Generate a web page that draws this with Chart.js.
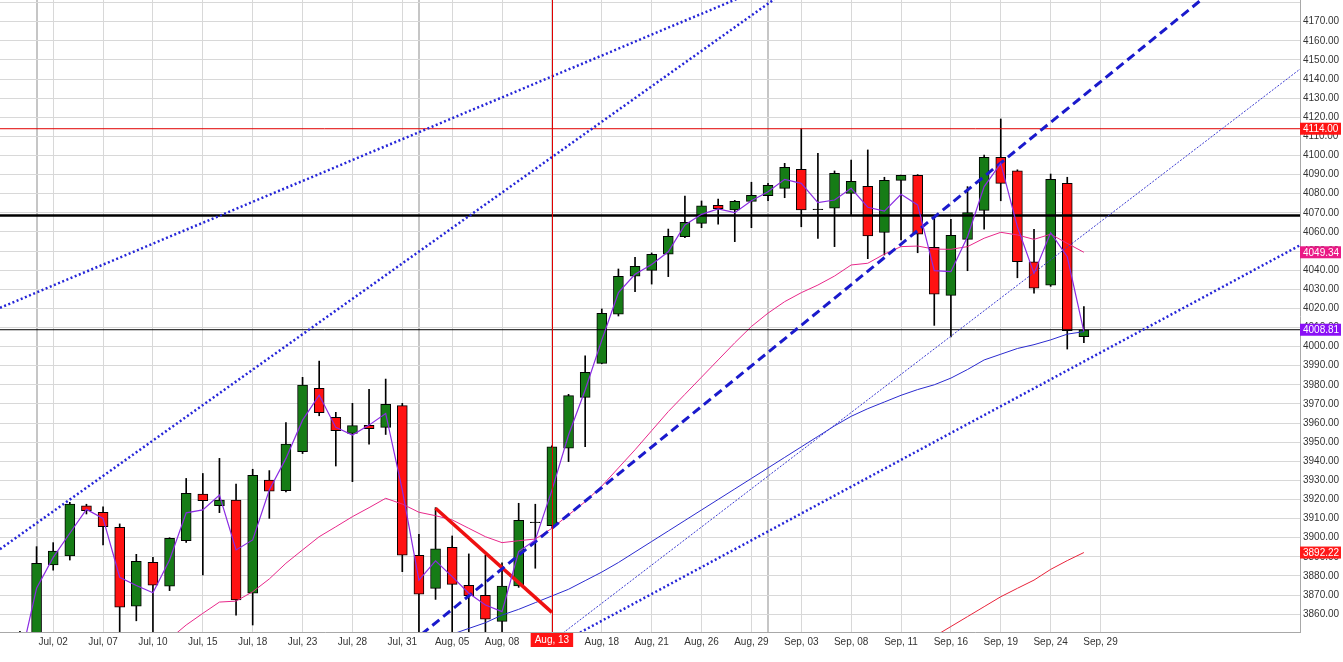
<!DOCTYPE html>
<html>
<head>
<meta charset="utf-8">
<title>Daily candles</title>
<script src="https://cdn.jsdelivr.net/npm/chart.js@4.4.1/dist/chart.umd.min.js"></script>
<style>
  html, body { margin: 0; padding: 0; background: #fff; }
  #wrap { width: 1343px; height: 662px; }
</style>
</head>
<body>
<div id="wrap"><canvas id="priceChart"></canvas></div>
<script>
// trading days, index 0 = Jun 30
const dates = ['Jun, 30', 'Jul, 01', 'Jul, 02', 'Jul, 03', 'Jul, 04', 'Jul, 07', 'Jul, 08', 'Jul, 09', 'Jul, 10', 'Jul, 11',
  'Jul, 14', 'Jul, 15', 'Jul, 16', 'Jul, 17', 'Jul, 18', 'Jul, 21', 'Jul, 22', 'Jul, 23', 'Jul, 24', 'Jul, 25',
  'Jul, 28', 'Jul, 29', 'Jul, 30', 'Jul, 31', 'Aug, 01', 'Aug, 04', 'Aug, 05', 'Aug, 06', 'Aug, 07', 'Aug, 08',
  'Aug, 11', 'Aug, 12', 'Aug, 13', 'Aug, 14', 'Aug, 15', 'Aug, 18', 'Aug, 19', 'Aug, 20', 'Aug, 21', 'Aug, 22',
  'Aug, 25', 'Aug, 26', 'Aug, 27', 'Aug, 28', 'Aug, 29', 'Sep, 01', 'Sep, 02', 'Sep, 03', 'Sep, 04', 'Sep, 05',
  'Sep, 08', 'Sep, 09', 'Sep, 10', 'Sep, 11', 'Sep, 12', 'Sep, 15', 'Sep, 16', 'Sep, 17', 'Sep, 18', 'Sep, 19',
  'Sep, 22', 'Sep, 23', 'Sep, 24', 'Sep, 25', 'Sep, 26', 'Sep, 29'];

const labelIndexes = [2, 5, 8, 11, 14, 17, 20, 23, 26, 29, 32, 35, 38, 41, 44, 47, 50, 53, 56, 59, 62, 65];
const monthStarts = [1, 24, 45];
const markerIndex = 32;

const opens = [3830, 3840, 3885.8, 3890.4, 3916.6, 3913.3, 3905.4, 3864.1, 3887.1, 3874.6,
  3898.4, 3922.8, 3916.7, 3919.7, 3870.9, 3930.2, 3924.6, 3945, 3978.2, 3963,
  3954.6, 3958.8, 3957.7, 3969.1, 3890.8, 3873.5, 3895, 3875.1, 3869.8, 3856.2,
  3874.7, 3908.1, 3906.3, 3946.8, 3973.4, 3991.2, 4016.9, 4036.8, 4039.9, 4048.3,
  4057.5, 4064.5, 4073.9, 4071.5, 4076, 4079, 4082.8, 4092.8, 4072, 4072.4,
  4080.2, 4083.9, 4059.8, 4087, 4089.6, 4051.9, 4026.8, 4056.1, 4071.3, 4099,
  4092, 4044.4, 4032.1, 4085.4, 4005.2];
const highs = [3851, 3895.3, 3897.4, 3918.5, 3917.5, 3916.2, 3907.2, 3891.3, 3889.7, 3900,
  3931, 3933.6, 3941.5, 3928.1, 3935.8, 3935.1, 3960.2, 3983.9, 3992.4, 3965.6,
  3970.3, 3977.6, 3983, 3970.3, 3901.8, 3915.7, 3900.9, 3891.5, 3890.9, 3886.9,
  3918, 3917.5, 3948, 3975, 3995.1, 4019.7, 4040.6, 4046.7, 4049, 4061.5,
  4078.8, 4076.2, 4077.2, 4076.5, 4086, 4085.4, 4095.9, 4114, 4101.1, 4091.9,
  4097.6, 4102.9, 4088.6, 4089.8, 4090, 4068, 4066.6, 4083.7, 4100.2, 4119.1,
  4092.5, 4061.4, 4090.3, 4088.6, 4020.9];
const lows = [3822, 3835, 3883, 3888.3, 3912.4, 3896.2, 3846, 3856.5, 3846, 3872.3,
  3897.5, 3880.5, 3913.1, 3859.5, 3854.3, 3910.1, 3924, 3944, 3963.8, 3937.5,
  3929.3, 3948.9, 3954, 3882.2, 3846, 3867.7, 3846, 3846, 3846, 3846,
  3874, 3884, 3906, 3939.8, 3947.6, 3991, 4016, 4028.7, 4032.7, 4036.6,
  4057, 4062.2, 4064, 4054.9, 4062.2, 4076.3, 4077.9, 4062.7, 4056.6, 4052.3,
  4068.8, 4046, 4047.9, 4055.8, 4049.1, 4011.1, 4005, 4039.7, 4061.4, 4076.3,
  4036, 4027.9, 4031.5, 3998.7, 4002];
const closes = [3842, 3886.6, 3893, 3917.6, 3914.1, 3905.7, 3863.6, 3887.6, 3875.1, 3899.7,
  3923.2, 3919.3, 3919.7, 3867.4, 3932.6, 3924.3, 3949, 3979.9, 3965.4, 3956,
  3958.6, 3957, 3969.8, 3890.8, 3870.4, 3894.2, 3875.6, 3869.7, 3857.3, 3874.7,
  3909.1, 3907.8, 3947.6, 3974.3, 3986.5, 4017.4, 4036.8, 4042, 4048.3, 4057.7,
  4065, 4073.7, 4072.1, 4076, 4079.2, 4084.4, 4093.8, 4071.5, 4071.7, 4090.7,
  4086.5, 4057.9, 4087, 4089.6, 4058.8, 4027.4, 4058.2, 4070.1, 4099, 4085.4,
  4044.4, 4030.5, 4087.5, 4008.3, 4008.81];

// moving averages (null = not drawn)
const fastLine = [3835, 3873.5, 3889.7, 3902.3, 3914.8, 3910.1, 3879.3, 3875, 3871.2, 3888.3,
  3913, 3914.5, 3922.3, 3893.6, 3898.8, 3924.9, 3941.5, 3961.5, 3974.6, 3957.7,
  3953.7, 3958.9, 3965, 3924.9, 3877.8, 3887.9, 3879.6, 3870.9, 3864.8, 3861.3,
  3892.7, 3898.8, 3924.9, 3953.7, 3977.3, 4003.4, 4028.2, 4037.8, 4043, 4049.6,
  4063.6, 4069.2, 4072, 4070.1, 4076.3, 4081, 4087.5, 4085.4, 4075.3, 4076.7,
  4082.8, 4072.9, 4070.9, 4079.7, 4074.1, 4039.7, 4039.2, 4057.5, 4083.7, 4095.9,
  4062.7, 4038.3, 4059.6, 4047, 4007.8];
const midAverage = [null, null, null, null, null, null, null, null, null, 3847,
  3854.3, 3860.4, 3866.3, 3866.8, 3871.7, 3878.4, 3886.6, 3893.6, 3900.5, 3905.7,
  3911, 3915.7, 3920.6, 3917.6, 3913.3, 3911.5, 3909.3, 3904.9, 3900.5, 3897.4,
  3898.4, 3899.3, 3904.9, 3911.9, 3918.8, 3927, 3936.5, 3946, 3956, 3966,
  3975, 3984, 3993, 4002, 4010.5, 4017.5, 4023.5, 4028.2, 4032.2, 4036.9,
  4042.7, 4043.6, 4048.4, 4052.3, 4052.6, 4051, 4050.9, 4052.3, 4056.7, 4059.8,
  4058.4, 4056.1, 4058.8, 4054, 4049.34];
const slowAverage = [null, null, null, null, null, null, null, null, null, null,
  null, null, null, null, null, null, null, null, null, null,
  null, null, null, null, null, 3845, 3849.5, 3852.5, 3855.5, 3859.5,
  3862.5, 3866, 3869.5, 3873, 3877.5, 3882, 3887, 3892.5, 3898, 3903.5,
  3909, 3914.5, 3920, 3925.5, 3931, 3936.5, 3942, 3947.5, 3953, 3958.5,
  3963.5, 3967.5, 3971, 3974.5, 3977.5, 3980, 3983.5, 3988, 3993, 3996,
  3999, 4001, 4003.5, 4006.5, 4007.8];
const longAverage = [null, null, null, null, null, null, null, null, null, null,
  null, null, null, null, null, null, null, null, null, null,
  null, null, null, null, null, null, null, null, null, null,
  null, null, null, null, null, null, null, null, null, null,
  null, null, null, null, null, null, null, null, null, null,
  null, null, null, null, null, 3848.3, 3853.5, 3858.7, 3863.9, 3869.1,
  3873.5, 3877.8, 3883.4, 3888, 3892.22];

// drawn trend lines: [index, price] end points
const upperChannel = [[-1.2, 4020.3], [46.0, 4192.4]];
const middleChannel = [[-1.2, 3894.0], [47.0, 4191.8]];
const lowerChannel = [[32.5, 3844.8], [77.0, 4053.0]];
const fineTrend = [[32.0, 3845.7], [77.0, 4145.2]];
const dashedTrend = [[23.5, 3844.8], [72.0, 4188.1]];
const downSegment = [[25.0, 3915.4], [32.0, 3860.9]];

const resistanceLevel = 4114.00;
const pivotLevel = 4068.6;
const lastPrice = 4008.81;

const badgeValues = [4114.00, 4049.34, 4008.81, 3892.22];
const badgeColors = ['#ff1414', '#ea1a86', '#8a10f5', '#ff1a1a'];

const axisFont = '"Liberation Sans", Arial, sans-serif';

const toPoints = arr => arr.map((v, i) => v == null ? null : {x: i, y: v}).filter(Boolean);
const toSegment = pairs => pairs.map(p => ({x: p[0], y: p[1]}));
const level = v => [{x: -2, y: v}, {x: 78, y: v}];

function candleColor(i) {
    if (Math.abs(closes[i] - opens[i]) < 0.5) return '#000000';
    return closes[i] > opens[i] ? '#167c16' : '#ff1212';
}

const lineBase = {type: 'line', pointRadius: 0, tension: 0, fill: false, clip: 0};

const overlay = {
    id: 'overlay',
    afterDatasetsDraw(chart) {
        const {ctx, chartArea, scales: {x}} = chart;
        const mx = Math.round(x.getPixelForValue(markerIndex)) + 0.5;
        ctx.save();
        ctx.strokeStyle = '#e00000';
        ctx.lineWidth = 1;
        ctx.beginPath();
        ctx.moveTo(mx, chartArea.top);
        ctx.lineTo(mx, chartArea.bottom);
        ctx.stroke();
        ctx.restore();
    },
    afterDraw(chart) {
        const {ctx, chartArea, scales: {x, y}} = chart;
        ctx.save();
        ctx.font = '10px ' + axisFont;
        ctx.textBaseline = 'middle';

        // highlighted date under the marker
        const mx = x.getPixelForValue(markerIndex);
        const txt = dates[markerIndex];
        const w = ctx.measureText(txt).width + 8;
        ctx.fillStyle = '#ff1414';
        ctx.fillRect(mx - w / 2, chartArea.bottom + 1, w, 14);
        ctx.fillStyle = '#ffffff';
        ctx.textAlign = 'center';
        ctx.fillText(txt, mx, chartArea.bottom + 8.5);

        // price badges on the right axis
        ctx.textAlign = 'left';
        badgeValues.forEach((v, i) => {
            const py = y.getPixelForValue(v);
            ctx.fillStyle = badgeColors[i];
            ctx.fillRect(chartArea.right, py - 6, 41, 12);
            ctx.fillStyle = '#ffffff';
            ctx.fillText(v.toFixed(2), chartArea.right + 3, py + 0.5);
        });
        ctx.restore();
    }
};

const ctx = document.getElementById('priceChart').getContext('2d');

const chart = new Chart(ctx, {
    data: {
        datasets: [
            {...lineBase, label: 'Level', data: level(resistanceLevel), borderColor: '#e00000', borderWidth: 1, order: 3},
            {...lineBase, label: 'Pivot', data: level(pivotLevel), borderColor: '#000000', borderWidth: 2.5, order: 3},
            {...lineBase, label: 'Last', data: level(lastPrice), borderColor: '#000000', borderWidth: 1, order: 3},
            {...lineBase, label: 'Upper channel', data: toSegment(upperChannel), borderColor: '#2525d8', borderWidth: 2.5, borderDash: [2, 2.5], order: 2},
            {...lineBase, label: 'Middle channel', data: toSegment(middleChannel), borderColor: '#2525d8', borderWidth: 2.5, borderDash: [2, 2.5], order: 2},
            {...lineBase, label: 'Lower channel', data: toSegment(lowerChannel), borderColor: '#2525d8', borderWidth: 2.5, borderDash: [2, 2.5], order: 2},
            {...lineBase, label: 'Fine trend', data: toSegment(fineTrend), borderColor: '#3a3ad0', borderWidth: 1, borderDash: [2, 1.5], order: 2},
            {...lineBase, label: 'Trend', data: toSegment(dashedTrend), borderColor: '#1a1acc', borderWidth: 3, borderDash: [9, 5], order: 2},
            {...lineBase, label: 'Down', data: toSegment(downSegment), borderColor: '#ee1111', borderWidth: 3.5, order: 2},
            {...lineBase, label: 'Long MA', data: toPoints(longAverage), borderColor: '#e8233a', borderWidth: 1, order: 4},
            {...lineBase, label: 'Slow MA', data: toPoints(slowAverage), borderColor: '#2b2bcf', borderWidth: 1, order: 4},
            {...lineBase, label: 'Mid MA', data: toPoints(midAverage), borderColor: '#e8288a', borderWidth: 1, order: 4},
            {...lineBase, label: 'Fast', data: toPoints(fastLine), borderColor: '#8a2be2', borderWidth: 1.2, order: 1},
            {
                type: 'bar',
                label: 'Bodies',
                data: opens.map((o, i) => ({x: i, y: [o, closes[i]]})),
                backgroundColor: opens.map((o, i) => candleColor(i)),
                borderColor: '#000000',
                borderWidth: 1,
                borderSkipped: false,
                barThickness: 10,
                grouped: false,
                order: 10
            },
            {
                type: 'bar',
                label: 'Wicks',
                data: lows.map((l, i) => ({x: i, y: [l, highs[i]]})),
                backgroundColor: '#000000',
                borderWidth: 0,
                barThickness: 1,
                grouped: false,
                order: 20
            }
        ]
    },
    options: {
        responsive: true,
        maintainAspectRatio: false,
        animation: false,
        events: [],
        layout: {padding: 0},
        plugins: {
            legend: {display: false},
            tooltip: {enabled: false}
        },
        scales: {
            x: {
                type: 'linear',
                position: 'bottom',
                offset: false,
                min: -1.2,
                max: 77.0,
                afterBuildTicks: scale => {
                    scale.ticks = monthStarts.concat(labelIndexes).sort((a, b) => a - b).map(v => ({value: v}));
                },
                afterFit: scale => {
                    scale.height = 30;
                    scale.paddingLeft = 0;
                    scale.paddingRight = 0;
                },
                ticks: {
                    autoSkip: false,
                    maxRotation: 0,
                    padding: 4,
                    color: '#333333',
                    font: {family: axisFont, size: 10},
                    callback: v => labelIndexes.includes(v) ? dates[v] : ''
                },
                grid: {
                    offset: false,
                    drawTicks: false,
                    color: c => c.tick && monthStarts.includes(c.tick.value) ? '#c6c6c6' : '#d8d8d8',
                    lineWidth: c => c.tick && monthStarts.includes(c.tick.value) ? 2 : 1
                },
                border: {color: '#a8a8a8'}
            },
            y: {
                type: 'linear',
                position: 'right',
                min: 3850.64,
                max: 4181.36,
                afterFit: scale => {
                    scale.width = 43;
                    scale.paddingTop = 0;
                    scale.paddingBottom = 0;
                },
                ticks: {
                    stepSize: 10,
                    includeBounds: false,
                    padding: 3,
                    color: '#333333',
                    font: {family: axisFont, size: 10},
                    callback: v => v > 4175 ? '' : v.toFixed(2)
                },
                grid: {drawTicks: false, color: '#d8d8d8'},
                border: {color: '#a8a8a8'}
            }
        }
    },
    plugins: [overlay]
});
</script>
</body>
</html>
